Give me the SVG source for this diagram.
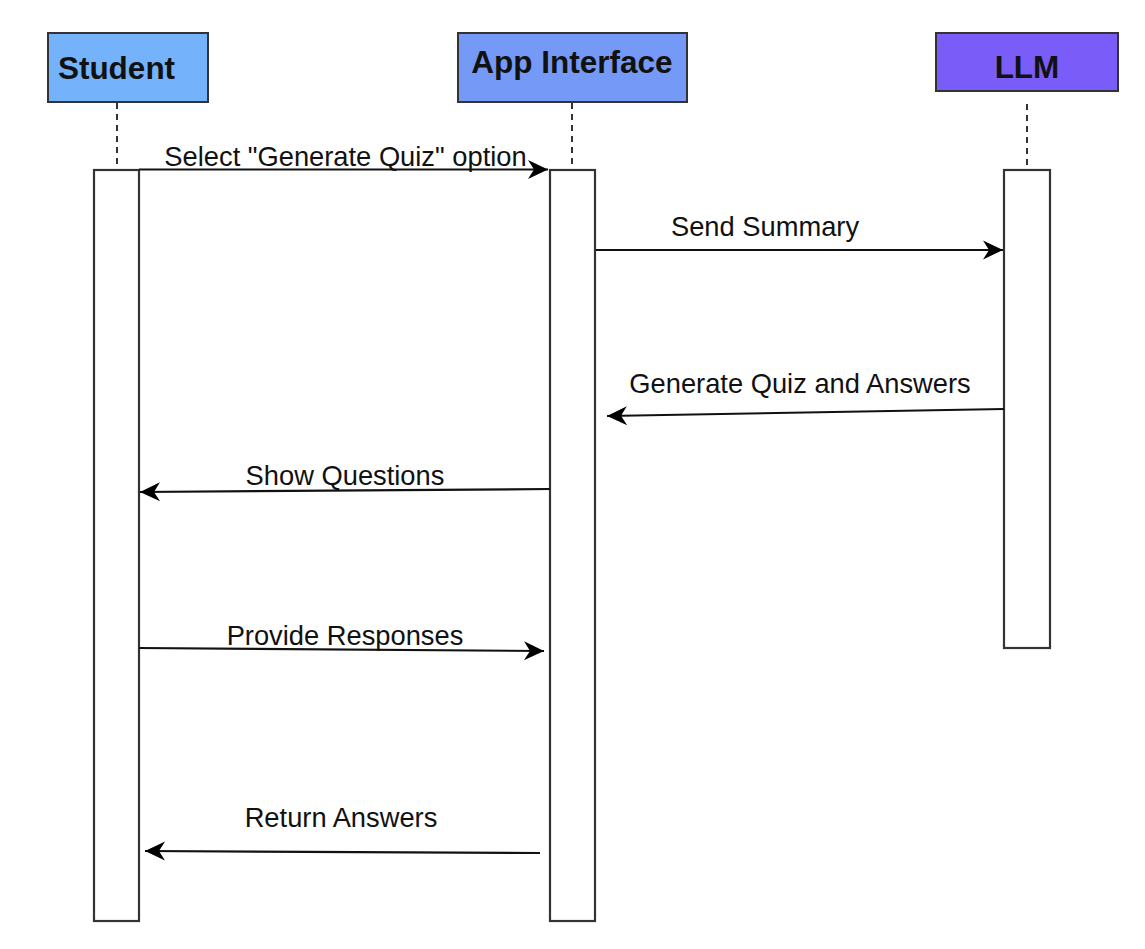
<svg xmlns="http://www.w3.org/2000/svg" width="1145" height="949" viewBox="0 0 1145 949">
<style>
.head{stroke:#333;stroke-width:2}
.hl{font-family:"Liberation Sans",Arial,sans-serif;font-weight:bold;font-size:31.5px;fill:#111;text-anchor:middle}
.life{stroke:#333;stroke-width:2;stroke-dasharray:6,5;fill:none}
.act{fill:#fff;stroke:#333;stroke-width:2.2}
.msg{stroke:#111;stroke-width:2.2;fill:none}
.lbl{font-family:"Liberation Sans",Arial,sans-serif;font-size:27.3px;fill:#111;text-anchor:middle}
</style>
<defs>
<marker id="arr" viewBox="-21 -11 22 22" markerWidth="22" markerHeight="22" refX="0" refY="0" orient="auto" markerUnits="userSpaceOnUse">
<path d="M0,0 L-20,-9.5 L-14,0 L-20,9.5 Z" fill="#000"/>
</marker>
</defs>
<rect width="1145" height="949" fill="#fff"/>
<g id="student">
<rect class="head" x="48" y="33" width="160" height="69" fill="#74b3fb"/>
<text class="hl" x="116.5" y="79">Student</text>
<line class="life" x1="117" y1="103" x2="117" y2="170"/>
<rect class="act" x="94" y="170" width="45" height="751"/>
</g>
<g id="app">
<rect class="head" x="458" y="33" width="229" height="69" fill="#7599f7"/>
<text class="hl" x="572" y="73">App Interface</text>
<line class="life" x1="572" y1="103" x2="572" y2="170"/>
<rect class="act" x="550" y="170" width="45" height="751"/>
</g>
<g id="llm">
<rect class="head" x="936" y="33" width="182" height="58" fill="#7a5cf8"/>
<text class="hl" x="1027" y="78">LLM</text>
<line class="life" x1="1027" y1="104" x2="1027" y2="170"/>
<rect class="act" x="1004" y="170" width="46" height="478"/>
</g>
<g id="connectors">
<path class="msg" d="M139,169.5 L548,169.5" marker-end="url(#arr)"/>
<text class="lbl" x="345.5" y="166">Select "Generate Quiz" option</text>
<path class="msg" d="M596,250 L1003,250" marker-end="url(#arr)"/>
<text class="lbl" x="765" y="236">Send Summary</text>
<path class="msg" d="M1004,409 L607,416" marker-end="url(#arr)"/>
<text class="lbl" x="800" y="393">Generate Quiz and Answers</text>
<path class="msg" d="M550,489 L140,492" marker-end="url(#arr)"/>
<text class="lbl" x="345" y="485">Show Questions</text>
<path class="msg" d="M139,648 L544,651" marker-end="url(#arr)"/>
<text class="lbl" x="345" y="645">Provide Responses</text>
<path class="msg" d="M540,853 L145,851" marker-end="url(#arr)"/>
<text class="lbl" x="341" y="827">Return Answers</text>
</g>
</svg>
